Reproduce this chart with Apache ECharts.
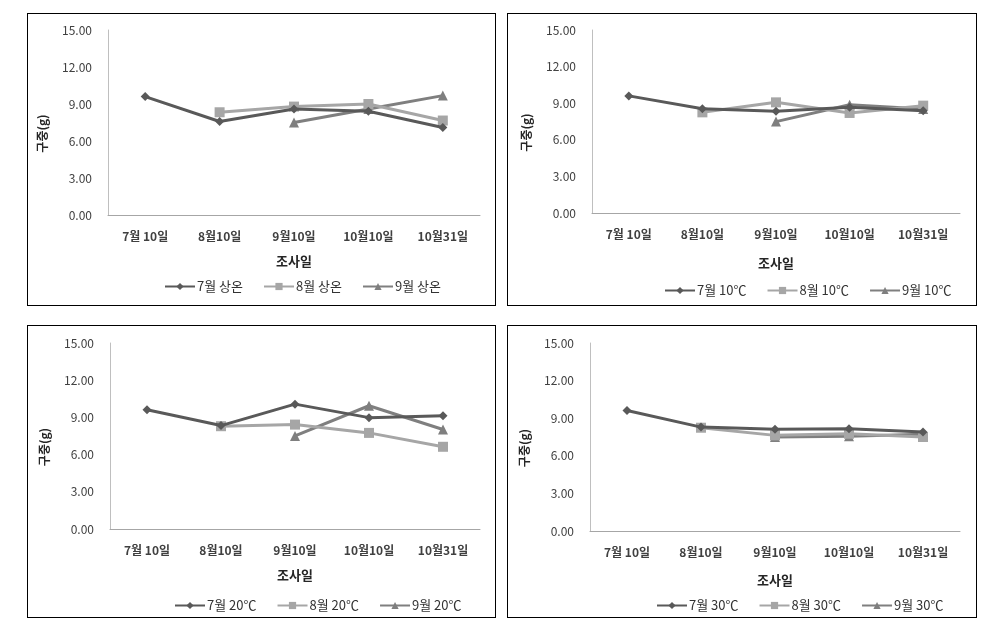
<!DOCTYPE html>
<html>
<head>
<meta charset="utf-8">
<script src="https://cdn.jsdelivr.net/npm/echarts@6/dist/echarts.min.js"></script>
<style>
  html, body { margin: 0; padding: 0; background: #fff; width: 1000px; height: 631px; overflow: hidden; }
  .panel { position: absolute; border: 1px solid #000; box-sizing: border-box; background: #fff; }
</style>
</head>
<body>
<div id="p1" class="panel" style="left:27px;top:13px;width:469px;height:293px;"></div>
<div id="p2" class="panel" style="left:507px;top:13px;width:470px;height:293px;"></div>
<div id="p3" class="panel" style="left:27px;top:325px;width:469px;height:293px;"></div>
<div id="p4" class="panel" style="left:507px;top:325px;width:470px;height:293px;"></div>
<script>
// ---- data ----
const categories = ['7월 10일', '8월10일', '9월10일', '10월10일', '10월31일'];
const yTicks = [0, 3, 6, 9, 12, 15];
const xTitle = '조사일';
const yTitle = '구중(g)';

// Panel 1: 상온
const names1 = ['7월 상온', '8월 상온', '9월 상온'];
const jul1 = [9.6, 7.58, 8.6, 8.41, 7.1];
const aug1 = [null, 8.33, 8.79, 9.0, 7.66];
const sep1 = [null, null, 7.5, 8.6, 9.68];

// Panel 2: 10℃
const names2 = ['7월 10℃', '8월 10℃', '9월 10℃'];
const jul2 = [9.6, 8.55, 8.35, 8.66, 8.39];
const aug2 = [null, 8.25, 9.07, 8.2, 8.8];
const sep2 = [null, null, 7.49, 8.88, 8.53];

// Panel 3: 20℃
const names3 = ['7월 20℃', '8월 20℃', '9월 20℃'];
const jul3 = [9.62, 8.34, 10.07, 8.98, 9.14];
const aug3 = [null, 8.29, 8.42, 7.75, 6.63];
const sep3 = [null, null, 7.51, 9.94, 8.02];

// Panel 4: 30℃
const names4 = ['7월 30℃', '8월 30℃', '9월 30℃'];
const jul4 = [9.61, 8.29, 8.11, 8.16, 7.89];
const aug4 = [null, 8.24, 7.63, 7.76, 7.5];
const sep4 = [null, null, 7.5, 7.55, 7.71];

// ---- styling ----
const colors = ['#595959', '#A6A6A6', '#7F7F7F'];
const symbols = ['diamond', 'rect', 'triangle'];
const symbolSizes = [9, 10, 10];
const FONT = '"Noto Sans CJK KR", "Noto Sans", sans-serif';

function build(el, names, seriesData, g) {
  const chart = echarts.init(document.getElementById(el), null, { renderer: 'canvas' });
  chart.setOption({
    animation: false,
    textStyle: { fontFamily: FONT },
    grid: { left: g.left, right: g.right, top: g.top, bottom: g.bottom, containLabel: false },
    legend: {
      data: names,
      left: g.legendLeft,
      bottom: g.legendBottom,
      itemWidth: 30,
      itemHeight: 9,
      itemGap: 20,
      textStyle: { fontSize: 13, color: '#333', fontFamily: FONT, padding: [0, 0, 0, -3] }
    },
    xAxis: {
      type: 'category',
      data: categories,
      boundaryGap: true,
      name: xTitle,
      nameLocation: 'middle',
      nameGap: g.xNameGap,
      nameTextStyle: { fontSize: 13, fontWeight: 'bold', color: '#262626', fontFamily: FONT },
      axisLine: { show: true, lineStyle: { color: '#A6A6A6', width: 1 } },
      axisTick: { show: false },
      axisLabel: { fontSize: 12, fontWeight: 'bold', color: '#404040', margin: 15, fontFamily: FONT, interval: 0 },
      splitLine: { show: false }
    },
    yAxis: {
      type: 'value',
      min: yTicks[0],
      max: yTicks[yTicks.length - 1],
      interval: yTicks[1] - yTicks[0],
      name: yTitle,
      nameLocation: 'middle',
      nameGap: 60,
      nameRotate: 90,
      nameTextStyle: { fontSize: 12, fontWeight: 'bold', color: '#262626', fontFamily: FONT, padding: [0, 22, 0, 0] },
      axisLine: { show: true, lineStyle: { color: '#BFBFBF', width: 1 } },
      axisTick: { show: false },
      axisLabel: { fontSize: 12, color: '#404040', margin: 16, fontFamily: FONT, formatter: v => v.toFixed(2) },
      splitLine: { show: false }
    },
    series: names.map((n, i) => ({
      name: n,
      type: 'line',
      data: seriesData[i],
      connectNulls: false,
      symbol: symbols[i],
      symbolSize: symbolSizes[i],
      showAllSymbol: true,
      lineStyle: { color: colors[i], width: 3 },
      itemStyle: { color: colors[i] },
      emphasis: { disabled: true },
      z: 3 - i
    }))
  });
}

build('p1', names1, [jul1, aug1, sep1], { left: 80, right: 15, top: 16, bottom: 90, legendLeft: 131, legendBottom: 7, xNameGap: 40 });
build('p2', names2, [jul2, aug2, sep2], { left: 84, right: 16, top: 16, bottom: 92, legendLeft: 151, legendBottom: 3, xNameGap: 44 });
build('p3', names3, [jul3, aug3, sep3], { left: 82, right: 15, top: 17, bottom: 88, legendLeft: 141, legendBottom: 0, xNameGap: 40 });
build('p4', names4, [jul4, aug4, sep4], { left: 82, right: 16, top: 17, bottom: 86, legendLeft: 143, legendBottom: 0, xNameGap: 43 });
</script>
</body>
</html>
